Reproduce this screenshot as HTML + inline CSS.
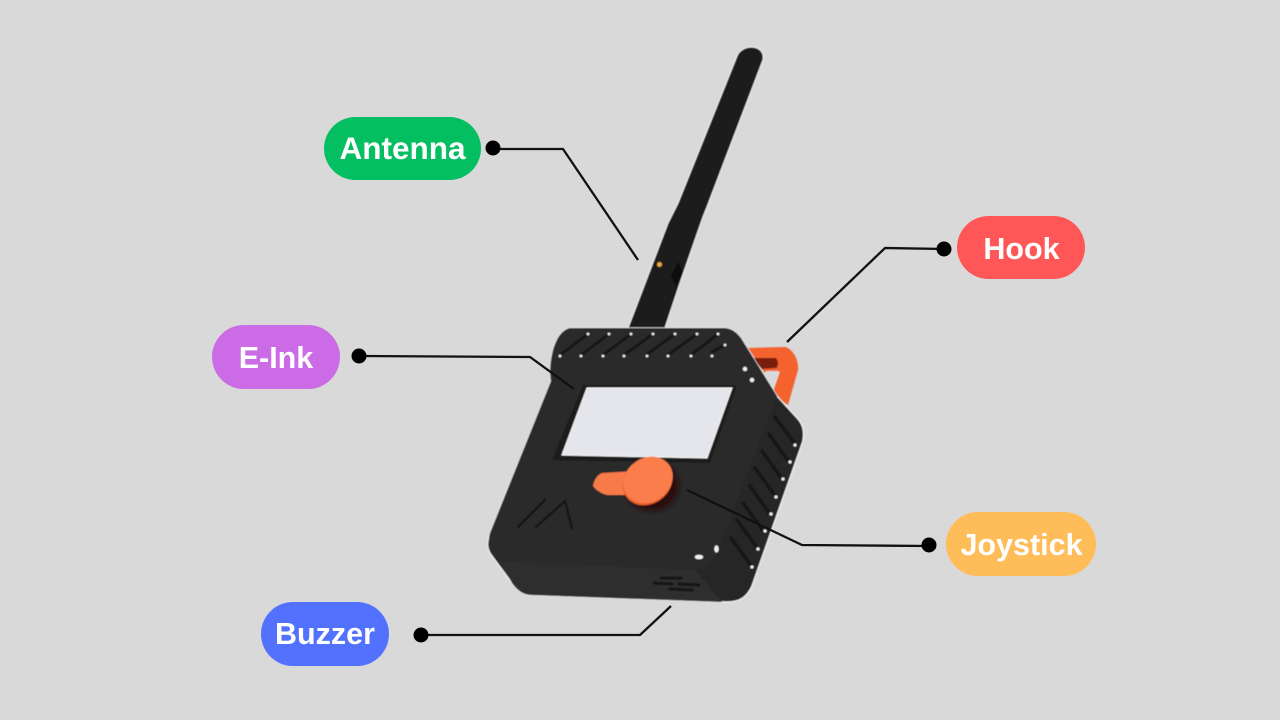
<!DOCTYPE html>
<html><head><meta charset="utf-8"><style>
html,body{margin:0;padding:0;background:#d9d9d9}
svg{display:block}
text{font-family:"Liberation Sans",sans-serif;font-weight:700;fill:#fff;text-anchor:middle;font-size:30.500px}
</style></head><body>
<svg width="1280" height="720" viewBox="0 0 1280 720" xmlns="http://www.w3.org/2000/svg">
<defs>
<filter id="s" x="-5%" y="-5%" width="110%" height="110%"><feGaussianBlur stdDeviation="0.600"/></filter>
<filter id="e" x="-10%" y="-10%" width="120%" height="120%"><feGaussianBlur stdDeviation="2.500"/></filter>
</defs>
<rect width="1280" height="720" fill="#d9d9d9"/>
<g filter="url(#s)">
<!-- antenna -->
<path d="M628 328 L668 223 L678 203 L737 56 C742 43 766 44 763 60 L707 207 L703 217 L680 283 L665 328 Z" fill="#1a1a1a" stroke="#efefef" stroke-width="1"/>
<circle cx="659.500" cy="264.500" r="2.500" fill="#e8a93c"/>
<path d="M678 262 L683 272 L676 286 L671 276 Z" fill="#0a0a0a"/>
<!-- hook -->
<path d="M748 348 L785 347 C793 349 799 360 798 370 L788 405 L772 395 L780 372 L764 372 Z" fill="#f4622f"/>
<path d="M752 358 L776 358 C779 362 778 367 776 368 L762 369 Z" fill="#7a1c0a"/>
<path d="M766 371 L779 371 L773 385 Z" fill="#d9d9d9"/>
<!-- body outline -->
<path d="M570 328 L725 328 C733 329 737 333 741 338 L777 396 L798 419 C804 426 804 433 803 441 L752 586 C747 597 740 602 727 602 L530 595 C522 594 517 590 512 583 L492 556 C486 548 487 542 490 533 L551 381 C549 370 551 358 553 350 C557 337 562 330 570 328 Z" fill="#272727" stroke="#f3f3f3" stroke-width="1.200"/>
<!-- front side -->
<path d="M499 560 L695 570 L722 602 L530 595 C522 594 517 590 512 583 Z" fill="#2f2f2f"/>
<!-- top face -->
<path d="M570 328 L725 328 C733 329 737 333 741 338 L777 396 L718 550 C712 565 704 570 692 570 L506 562 C492 558 486 548 490 533 L551 381 C549 370 551 358 553 350 C557 337 562 330 570 328 Z" fill="#2a2a2a"/>
<!-- top vents -->
<g stroke="#171717" stroke-width="2.800" stroke-linecap="round">
<path d="M560 355 L588 334M581 355 L609 334M603 355 L631 334M624 355 L653 334M646 355 L675 334M668 355 L697 334M691 355 L718 334M712 352 L725 345"/>
</g>
<g fill="#f2f2f2">
<circle cx="588" cy="334" r="1.400"/><circle cx="609" cy="334" r="1.400"/><circle cx="631" cy="334" r="1.400"/><circle cx="653" cy="334" r="1.400"/><circle cx="675" cy="334" r="1.400"/><circle cx="697" cy="334" r="1.400"/><circle cx="718" cy="334" r="1.400"/><circle cx="725" cy="345" r="1.400"/>
<circle cx="560" cy="356" r="1.400"/><circle cx="581" cy="356" r="1.400"/><circle cx="603" cy="356" r="1.400"/><circle cx="624" cy="356" r="1.400"/><circle cx="647" cy="356" r="1.400"/><circle cx="668" cy="356" r="1.400"/><circle cx="691" cy="356" r="1.400"/><circle cx="712" cy="356" r="1.400"/>
<circle cx="745" cy="369" r="2.200"/><circle cx="752" cy="380" r="2.200"/>
<ellipse cx="699" cy="557" rx="4.200" ry="2.300"/><ellipse cx="716.500" cy="549" rx="2.200" ry="3.600"/>
</g>
<!-- side vents -->
<g stroke="#131313" stroke-width="3.500" stroke-linecap="round">
<path d="M775 417 L795 444M769 434 L789 462M762 451 L782 479M755 468 L776 497M750 486 L770 514M743 503 L764 532M737 520 L758 549M731 538 L752 567"/>
</g>
<g fill="#eee">
<circle cx="795" cy="445" r="1.600"/><circle cx="790" cy="462" r="1.600"/><circle cx="783" cy="479" r="1.600"/><circle cx="776" cy="497" r="1.600"/><circle cx="771" cy="514" r="1.600"/><circle cx="765" cy="531" r="1.600"/><circle cx="758" cy="549" r="1.600"/><circle cx="752" cy="567" r="1.600"/>
</g>
<!-- screen -->
<path d="M583 385 L737 385 L710 463 L552 460 Z" fill="#1b1b1b"/>
<path d="M587 388 L732 388 L707 458 L562 455 Z" fill="#e5e6eb" stroke="#f8f8f8" stroke-width="1"/>
<!-- joystick -->
<ellipse cx="652" cy="486" rx="27" ry="25" fill="#2a0f0a" filter="url(#e)"/>
<path d="M602 473 L636 471 L628 495 L607 495 C600 493 596 490 593 486 C594 480 597 475 602 473 Z" fill="#f77a48"/>
<ellipse cx="647.500" cy="482" rx="26" ry="22" transform="rotate(-35 647.500 482)" fill="#e35d28"/>
<ellipse cx="648" cy="480" rx="26" ry="22" transform="rotate(-35 648 480)" fill="#fb7d4b"/>
<!-- logo -->
<g stroke="#181818" stroke-width="2.500" fill="none" stroke-linecap="round">
<path d="M518 527 L545 500M536 527 L565 501 L572 528"/>
</g>
<!-- speaker -->
<g stroke="#141414" stroke-width="3" stroke-linecap="round">
<path d="M661 578 L681 578M654 583 L672 584M679 584 L699 585M670 589 L692 590"/>
</g>
</g>
<!-- connectors -->
<g stroke="#111" stroke-width="2.300" fill="none">
<path d="M493 149 L563 149 L638 260"/>
<path d="M944 249 L885 248 L787 342"/>
<path d="M359 356 L530 357 L574 389"/>
<path d="M929 546 L802 545 L687 490"/>
<path d="M421 635 L640 635 L671 606"/>
</g>
<g fill="#000">
<circle cx="493" cy="148" r="7.500"/>
<circle cx="944" cy="249" r="7.500"/>
<circle cx="359" cy="356" r="7.500"/>
<circle cx="929" cy="545" r="7.500"/>
<circle cx="421" cy="635" r="7.500"/>
</g>
<!-- pills -->
<rect x="324" y="117" width="157" height="63" rx="31.500" fill="#03bf62"/>
<rect x="957" y="216" width="128" height="63" rx="31.500" fill="#ff5757"/>
<rect x="212" y="325" width="128" height="64" rx="32" fill="#cb6ce6"/>
<rect x="946" y="512" width="150" height="64" rx="32" fill="#ffbd59"/>
<rect x="261" y="602" width="128" height="64" rx="32" fill="#5271ff"/>
<text x="402.500" y="159" style="font-size:31.500px">Antenna</text>
<text x="1021.500" y="259">Hook</text>
<text x="276" y="368">E-Ink</text>
<text x="1021.500" y="555">Joystick</text>
<text x="325" y="644">Buzzer</text>
</svg>
</body></html>
